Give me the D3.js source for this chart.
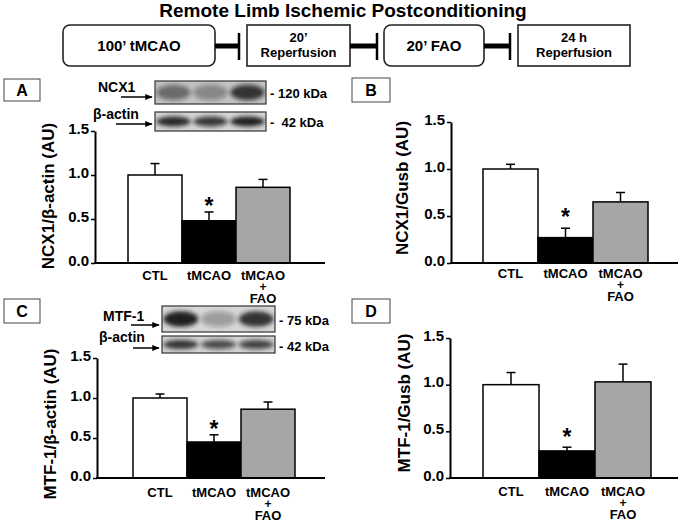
<!DOCTYPE html>
<html>
<head>
<meta charset="utf-8">
<script src="https://cdn.jsdelivr.net/npm/d3@7"></script>
<style>
body { margin: 0; background: #fff; }
text { font-family: "Liberation Sans", Arial, sans-serif; font-weight: bold; fill: #000; }
</style>
</head>
<body>
<div id="c"></div>
<script>
// values
var groups = ["CTL", "tMCAO", "tMCAO + FAO"];
var ncx1_actin = [1.00, 0.48, 0.86];
var ncx1_actin_err = [0.13, 0.10, 0.09];
var ncx1_gusb = [1.00, 0.27, 0.65];
var ncx1_gusb_err = [0.05, 0.10, 0.10];
var mtf1_actin = [1.00, 0.45, 0.86];
var mtf1_actin_err = [0.05, 0.09, 0.09];
var mtf1_gusb = [1.00, 0.29, 1.03];
var mtf1_gusb_err = [0.13, 0.04, 0.19];
var y_ticks = [0, 0.5, 1.0, 1.5];

// western blot band darkness per lane (0..1)
var ncx1_bands = [0.5, 0.35, 0.8];
var actin_a_bands = [0.9, 0.8, 0.95];
var mtf1_bands = [0.95, 0.3, 0.85];
var actin_c_bands = [0.85, 0.7, 0.75];

var title = "Remote Limb Ischemic Postconditioning";
var steps = [["100\u2019 tMCAO"], ["20\u2019", "Reperfusion"], ["20\u2019 FAO"], ["24 h", "Reperfusion"]];

var width = 685;
var height = 522;
var bar_fill = ["#ffffff", "#000000", "#a6a6a6"];

var svg = d3.select("#c").append("svg")
	.attr("width", width)
	.attr("height", height);

var defs = svg.append("defs");
defs.append("filter")
	.attr("id", "blur")
	.attr("x", "-50%").attr("y", "-50%")
	.attr("width", "200%").attr("height", "200%")
	.append("feGaussianBlur")
	.attr("stdDeviation", 2.2);

defs.append("marker")
	.attr("id", "arrow")
	.attr("viewBox", "0 0 10 10")
	.attr("refX", 9).attr("refY", 5)
	.attr("markerWidth", 5).attr("markerHeight", 5)
	.attr("orient", "auto")
	.append("path")
	.attr("d", "M0,1 L10,5 L0,9 z")
	.attr("fill", "#000");

// ---- header: protocol timeline ----
svg.append("text")
	.attr("x", 343)
	.attr("y", 17)
	.attr("text-anchor", "middle")
	.attr("font-size", 19)
	.text(title);

var step_boxes = [
	{x0: 63, x1: 215, r: 7, fs: 15},
	{x0: 247, x1: 350, r: 0, fs: 13},
	{x0: 384, x1: 484, r: 7, fs: 15},
	{x0: 518, x1: 630, r: 0, fs: 13}
];
var stop_bars = [239, 377, 510];

step_boxes.forEach(function(b, i) {
	svg.append("rect")
		.attr("x", b.x0).attr("y", 25)
		.attr("width", b.x1 - b.x0).attr("height", 41)
		.attr("rx", b.r)
		.attr("fill", "#fff")
		.attr("stroke", "#222")
		.attr("stroke-width", 1.6);

	var lines = steps[i];
	var cx = (b.x0 + b.x1) / 2;
	var y0 = lines.length == 1 ? 51 : 42;
	lines.forEach(function(l, j) {
		svg.append("text")
			.attr("x", cx)
			.attr("y", y0 + j * 15)
			.attr("text-anchor", "middle")
			.attr("font-size", b.fs)
			.text(l);
	});

	if (i < stop_bars.length) {
		svg.append("line")
			.attr("x1", b.x1).attr("x2", stop_bars[i])
			.attr("y1", 46).attr("y2", 46)
			.attr("stroke", "#000")
			.attr("stroke-width", 5);
		svg.append("line")
			.attr("x1", stop_bars[i]).attr("x2", stop_bars[i])
			.attr("y1", 33).attr("y2", 60)
			.attr("stroke", "#000")
			.attr("stroke-width", 2.5);
	}
});

// ---- blots ----
function draw_blot(b) {
	b.strips.forEach(function(s) {
		var g = svg.append("g");
		var clip_id = "clip" + Math.round(s.y);
		defs.append("clipPath").attr("id", clip_id)
			.append("rect")
			.attr("x", b.x).attr("y", s.y)
			.attr("width", b.w).attr("height", s.h);

		g.append("rect")
			.attr("x", b.x).attr("y", s.y)
			.attr("width", b.w).attr("height", s.h)
			.attr("fill", s.bg);

		var lane_w = b.w / s.bands.length;
		g.append("g")
			.attr("clip-path", "url(#" + clip_id + ")")
			.selectAll("ellipse")
			.data(s.bands)
			.enter()
			.append("ellipse")
			.attr("cx", function(d, i) { return b.x + lane_w * (i + 0.5); })
			.attr("cy", s.y + s.h / 2)
			.attr("rx", lane_w * 0.46)
			.attr("ry", s.h * s.band_h)
			.attr("fill", "#141414")
			.attr("fill-opacity", function(d) { return d; })
			.attr("filter", "url(#blur)");

		g.append("rect")
			.attr("x", b.x).attr("y", s.y)
			.attr("width", b.w).attr("height", s.h)
			.attr("fill", "none")
			.attr("stroke", "#333")
			.attr("stroke-width", 1.2);

		svg.append("text")
			.attr("x", s.name_x)
			.attr("y", s.name_y)
			.attr("font-size", 14)
			.text(s.name);

		svg.append("line")
			.attr("x1", s.arrow[0]).attr("x2", s.arrow[1])
			.attr("y1", s.arrow[2]).attr("y2", s.arrow[2])
			.attr("stroke", "#000")
			.attr("stroke-width", 1.5)
			.attr("marker-end", "url(#arrow)");

		svg.append("text")
			.attr("x", b.x + b.w + 4)
			.attr("y", s.kda_y)
			.attr("font-size", 13)
			.attr("xml:space", "preserve")
			.text(s.kda);
	});
}

draw_blot({x: 155, w: 111, strips: [
	{y: 81, h: 23, band_h: 0.34, bg: "#c2c2c2", bands: ncx1_bands, name: "NCX1", name_x: 98, name_y: 92, arrow: [121, 152, 97], kda: "- 120 kDa", kda_y: 98},
	{y: 112, h: 19, band_h: 0.26, bg: "#d4d4d4", bands: actin_a_bands, name: "\u03b2-actin", name_x: 93, name_y: 119, arrow: [116, 152, 124], kda: "-  42 kDa", kda_y: 127}
]});

draw_blot({x: 162, w: 113, strips: [
	{y: 306, h: 26, band_h: 0.3, bg: "#d6d6d6", bands: mtf1_bands, name: "MTF-1", name_x: 103, name_y: 321, arrow: [131, 159, 325], kda: "- 75 kDa", kda_y: 325},
	{y: 336, h: 17, band_h: 0.26, bg: "#d2d2d2", bands: actin_c_bands, name: "\u03b2-actin", name_x: 99, name_y: 342, arrow: [133, 159, 348], kda: "- 42 kDa", kda_y: 351}
]});

// ---- bar panels ----
function draw_panel(p) {
	var x = d3.scaleBand()
		.domain(groups)
		.range([p.bar0, p.bar0 + 3 * p.bar_w])
		.padding(0);

	var y = d3.scaleLinear()
		.domain([0, 1.5])
		.range([p.y_bot, p.y_top]);

	// letter box
	svg.append("rect")
		.attr("x", p.box[0]).attr("y", p.box[1])
		.attr("width", p.box[2]).attr("height", p.box[3])
		.attr("fill", "#fff")
		.attr("stroke", "#444")
		.attr("stroke-width", 1);
	svg.append("text")
		.attr("x", p.box[0] + p.box[2] / 2)
		.attr("y", p.box[1] + p.box[3] / 2 + 6)
		.attr("text-anchor", "middle")
		.attr("font-size", 16)
		.text(p.letter);

	var data = groups.map(function(g, i) { return {g: g, v: p.vals[i], e: p.errs[i], i: i}; });

	// error bars (upper only)
	var eb = svg.append("g")
		.selectAll("g")
		.data(data)
		.enter()
		.append("g")
		.attr("stroke", "#000")
		.attr("stroke-width", 1.5);
	eb.append("line")
		.attr("x1", function(d) { return x(d.g) + x.bandwidth() / 2; })
		.attr("x2", function(d) { return x(d.g) + x.bandwidth() / 2; })
		.attr("y1", function(d) { return y(d.v); })
		.attr("y2", function(d) { return y(d.v + d.e); });
	eb.append("line")
		.attr("x1", function(d) { return x(d.g) + x.bandwidth() / 2 - 4.5; })
		.attr("x2", function(d) { return x(d.g) + x.bandwidth() / 2 + 4.5; })
		.attr("y1", function(d) { return y(d.v + d.e); })
		.attr("y2", function(d) { return y(d.v + d.e); });

	svg.append("g")
		.selectAll("rect")
		.data(data)
		.enter()
		.append("rect")
		.attr("x", function(d) { return x(d.g); })
		.attr("y", function(d) { return y(d.v); })
		.attr("width", x.bandwidth())
		.attr("height", function(d) { return p.y_bot - y(d.v); })
		.attr("fill", function(d) { return bar_fill[d.i]; })
		.attr("stroke", "#000")
		.attr("stroke-width", 1.5);

	// axes
	var ax = svg.append("g")
		.attr("transform", "translate(" + p.x0 + ",0)")
		.call(d3.axisLeft(y)
			.tickValues(y_ticks)
			.tickFormat(d3.format(".1f"))
			.tickSize(4)
			.tickSizeOuter(0));
	ax.attr("font-size", 15)
		.attr("font-family", "Liberation Sans, Arial, sans-serif");
	ax.select(".domain").attr("stroke-width", 2);
	ax.selectAll(".tick line").attr("stroke-width", 1.5);
	ax.selectAll(".tick text").attr("x", -6).attr("dy", "0.15em");

	svg.append("line")
		.attr("x1", p.x0 - 1).attr("x2", p.x1)
		.attr("y1", p.y_bot).attr("y2", p.y_bot)
		.attr("stroke", "#000")
		.attr("stroke-width", 2);

	// category labels, the combined group stacked on three lines in one text
	var offs = [0, 11, 12];
	data.forEach(function(d) {
		var cx = x(d.g) + x.bandwidth() / 2;
		var t = svg.append("text")
			.attr("x", cx)
			.attr("y", p.xlab_y)
			.attr("text-anchor", "middle")
			.attr("font-size", 13);
		d.g.split(" ").forEach(function(part, j) {
			t.append("tspan")
				.attr("x", cx)
				.attr("dy", offs[j])
				.attr("font-size", part == "+" ? 12 : 13)
				.text(part);
		});
	});

	// significance star over tMCAO
	svg.append("text")
		.attr("x", x(groups[1]) + x.bandwidth() / 2)
		.attr("y", p.star_y + 12)
		.attr("text-anchor", "middle")
		.attr("font-size", 23)
		.text("*");

	svg.append("text")
		.attr("transform", "translate(" + p.label_x + "," + p.label_y + ") rotate(-90)")
		.attr("text-anchor", "middle")
		.attr("dy", "0.35em")
		.attr("font-size", 17)
		.text(p.ylabel);
}

draw_panel({letter: "A", box: [4, 79, 36, 22], vals: ncx1_actin, errs: ncx1_actin_err,
	ylabel: "NCX1/\u03b2-actin (AU)", x0: 95, x1: 325, bar0: 128, bar_w: 54,
	y_top: 131, y_bot: 263, label_x: 48, label_y: 196, star_y: 202, xlab_y: 280});

draw_panel({letter: "B", box: [352, 78, 38, 24], vals: ncx1_gusb, errs: ncx1_gusb_err,
	ylabel: "NCX1/Gusb (AU)", x0: 451, x1: 678, bar0: 483, bar_w: 55,
	y_top: 122, y_bot: 263, label_x: 402, label_y: 188, star_y: 213, xlab_y: 278});

draw_panel({letter: "C", box: [4, 299, 36, 24], vals: mtf1_actin, errs: mtf1_actin_err,
	ylabel: "MTF-1/\u03b2-actin (AU)", x0: 97, x1: 325, bar0: 133, bar_w: 54,
	y_top: 358, y_bot: 478, label_x: 50, label_y: 424, star_y: 425, xlab_y: 497});

draw_panel({letter: "D", box: [352, 299, 38, 24], vals: mtf1_gusb, errs: mtf1_gusb_err,
	ylabel: "MTF-1/Gusb (AU)", x0: 450, x1: 678, bar0: 483, bar_w: 56,
	y_top: 338, y_bot: 478, label_x: 404, label_y: 403, star_y: 433, xlab_y: 496});
</script>
</body>
</html>
